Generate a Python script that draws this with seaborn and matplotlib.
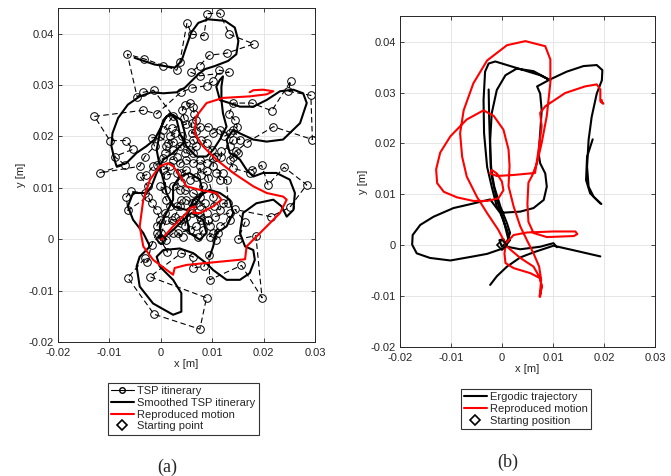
import numpy as np
import pandas as pd
import matplotlib
matplotlib.use("Agg")
import matplotlib.pyplot as plt
import seaborn as sns
from matplotlib.lines import Line2D

# -------------------------- data (values read in mm, plotted in m) --------------------------
# (a) TSP itinerary points, in visiting order
tsp_x_mm = [0.1, 1.3, -0.8, -1.8, -2.6, -3.1, -6.4, -1.3, 7.6, 8.9, -2.1, 4.0, 6.3, 6.2, 8.4, 9.4, 9.5, 15.7, 19.7,
            18.5, 15.1, 16.4, 14.4, 21.4, 25.1, 28.4, 24.0, 20.9, 19.6, 17.7, 17.3, 14.1, 13.4, 14.1, 15.1, 14.7,
            16.7, 21.9, 29.5, 29.2, 24.8, 25.3, 21.6, 17.7, 14.1, 13.3, 14.4, 14.9, 14.1, 15.4, 14.1, 13.4, 11.8,
            11.8, 10.8, 9.9, 8.9, 7.9, 10.2, 11.5, 12.3, 13.4, 9.2, 7.6, 6.9, 6.0, 6.0, 6.9, 6.5, 6.3, 5.6, 4.7,
            4.2, 4.5, 5.0, 2.1, 0.5, 2.4, -1.4, -3.4, -4.6, -6.5, -3.2, 0.5, 3.1, 3.7, 5.1, 6.0, 8.4, 9.0, 11.5,
            13.3, 18.1, 12.8, 9.4, 7.6, 5.8, 7.6, 13.3, 11.4, 10.2, 9.0, 6.0, 3.9, -0.8, -3.4, -12.9, -9.9, -6.8,
            -5.4, -9.0, -7.0, -11.9, -4.1, -3.1, -1.2, -1.8, -0.2, 1.4, 1.8, 2.7, 4.2, 5.0, 6.3, 6.9, 5.6, 6.3,
            4.7, 3.7, 2.4, 1.1, 0.8, 2.4, 3.1, 2.4, 0.5, -0.8, -1.5, -2.8, -4.1, -2.5, -3.1, -5.7, -6.7, -6.4,
            -2.5, -1.8, -0.8, -0.2, -0.8, 0.8, 1.8, 1.1, -0.2, 1.1, 0.5, 1.8, 1.1, 3.1, 3.7, 5.0, 6.3, 7.6, 8.9,
            10.2, 10.2, 12.1, 10.8, 11.5, 12.8, 13.1, 12.1, 11.5, 10.4, 10.2, 9.2, 8.9, 7.9, 7.6, 6.9, 5.6, 5.0,
            4.0, 4.0, 2.4, 3.7, 4.7, 6.3, 7.6, 8.2, 6.9, 6.0, 5.0, 4.0, 3.1, 3.7, 2.7, 2.1, 3.7, 4.7, 5.0, 6.0,
            7.6, 8.6, 8.9, 7.6, 7.9, 6.9, 5.6, 3.4, 4.4, 2.4, 1.1, 0.1, 1.1, 7.3, 8.2, 9.2, 9.5, 10.5, 13.4,
            13.4, 11.5, 10.2, 9.5, 11.2, 10.8]
tsp_y_mm = [-0.1, -2.5, 1.2, -1.1, -4.4, -3.7, -7.5, -14.6, -17.5, -11.4, -7.3, -2.7, -3.4, -5.6, -5.3, -3.1, -7.9,
            -5.1, -11.4, 0.7, 0.0, 3.4, 5.8, 4.4, 6.2, 10.6, 14.0, 10.6, 14.4, 13.5, 12.9, 13.8, 15.5, 16.1, 16.8,
            17.1, 18.8, 21.9, 19.4, 28.0, 28.8, 30.8, 25.0, 26.5, 26.5, 24.4, 23.2, 21.9, 21.3, 19.4, 19.4, 18.1,
            17.1, 16.1, 16.1, 17.4, 18.8, 19.4, 20.6, 21.3, 20.0, 20.6, 21.9, 21.9, 21.0, 20.6, 22.6, 23.2, 24.4,
            25.8, 26.5, 26.2, 25.2, 23.6, 22.4, 21.6, 21.3, 24.0, 29.0, 28.6, 27.7, 36.0, 35.1, 33.8, 32.9, 34.4,
            42.1, 39.9, 39.6, 43.9, 44.0, 39.9, 38.0, 36.2, 35.8, 33.8, 32.5, 31.8, 32.5, 32.9, 30.8, 29.9, 29.4,
            28.6, 24.4, 25.1, 23.9, 19.2, 19.2, 17.5, 16.1, 14.5, 12.9, 14.2, 16.1, 18.1, 19.7, 20.0, 18.7, 20.0,
            20.6, 20.0, 18.7, 19.4, 18.1, 17.4, 16.8, 16.8, 18.1, 19.0, 18.1, 16.8, 17.4, 16.1, 15.5, 15.8, 14.5,
            14.2, 12.5, 12.3, 10.3, 9.0, 9.3, 8.3, 5.6, 8.3, 7.0, 5.7, 3.8, 2.5, 5.1, 6.4, 7.7, 10.3, 9.6, 13.5,
            14.2, 12.5, 12.9, 14.8, 15.5, 14.8, 15.5, 14.8, 15.8, 14.2, 12.9, 12.9, 11.6, 11.6, 7.0, 7.0, 5.7, 6.4,
            8.3, 11.9, 13.2, 12.5, 14.2, 12.2, 11.6, 13.5, 12.9, 11.2, 10.3, 9.6, 9.6, 9.0, 8.3, 10.3, 7.0, 7.0,
            7.7, 7.7, 6.4, 6.4, 4.4, 3.8, 3.8, 2.5, 4.4, 5.1, 6.4, 7.0, 5.1, 4.4, 3.8, 2.5, 1.8, 1.2, 0.5, 1.2,
            -0.1, 1.2, 3.8, 0.5, 1.8, 3.8, 2.5, 4.4, 5.1, 3.8, 2.5, 1.2, 0.5, 1.2, -0.1]

# (a) smoothed TSP itinerary
smooth_x_mm = [-5.1, -1.2, 2.7, 4.0, 4.9, 5.9, 7.3, 9.2, 12.5, 14.4, 15.1, 14.7, 13.1, 10.5, 8.6, 7.3, 6.0, 4.7,
               3.1, 0.5, -1.8, -4.1, -6.4, -8.3, -9.4, -9.6, -9.0, -8.6, -6.7, -4.7, -2.8, -1.2, 0.1, 1.1, 2.4,
               4.0, 4.7, 4.4, 2.4, 0.5, -0.8, -1.8, -2.8, -5.4, -6.4, -5.4, -3.4, -2.1, -4.1, -4.7, -4.1, -1.5,
               2.4, 4.0, 4.0, 2.4, -0.2, -0.8, 0.5, 3.7, 6.3, 8.9, 10.2, 12.8, 15.4, 17.3, 18.3, 18.0, 16.4,
               15.4, 16.0, 18.6, 21.9, 23.5, 24.5, 25.8, 26.1, 25.1, 22.5, 19.9, 18.0, 16.7, 15.4, 13.4, 12.8,
               14.1, 15.4, 18.0, 20.6, 23.8, 27.1, 28.4, 27.7, 25.8, 23.2, 20.6, 18.0, 15.4, 13.4, 11.5, 10.8,
               11.5, 12.1, 11.8, 11.8, 12.1, 12.8, 11.5, 10.2, 8.9, 6.9, 5.0, 3.7, 3.1, 1.8, 0.5, -0.2, -0.8,
               -0.2, 0.5, 1.1, 2.4, 5.0, 6.9, 8.2, 7.6, 5.6, 3.7, 2.4, 2.4, 1.1, -0.2, 0.1, 2.4, 4.4, 6.0, 8.2,
               8.9, 7.6, 5.6, 5.0, 6.3, 9.5, 11.5, 13.4, 14.1, 12.8, 10.8, 10.2, 9.5]
smooth_y_mm = [35.3, 34.0, 33.4, 34.6, 37.3, 40.2, 42.1, 42.8, 42.5, 41.2, 38.6, 36.0, 34.7, 33.7, 33.1, 32.1,
               30.8, 29.5, 28.6, 28.4, 28.6, 27.8, 26.2, 23.6, 20.6, 18.1, 15.5, 14.2, 14.8, 16.8, 18.1, 19.4,
               21.9, 23.9, 24.2, 23.2, 20.6, 18.7, 16.8, 15.5, 12.9, 10.3, 9.0, 9.0, 6.4, 3.8, 1.2, -1.4, -3.4,
               -5.3, -9.2, -12.5, -14.7, -14.1, -10.5, -7.9, -5.3, -3.4, -2.1, -1.8, -2.7, -4.7, -6.0, -7.9,
               -7.9, -6.6, -4.0, -2.1, -1.4, 1.2, 5.1, 7.0, 7.7, 6.4, 4.4, 5.7, 9.0, 11.6, 12.9, 12.9, 12.2,
               13.5, 15.5, 16.8, 19.4, 21.3, 20.6, 19.4, 19.0, 19.4, 22.6, 26.5, 28.4, 29.1, 28.8, 27.1, 25.8,
               25.8, 26.5, 27.1, 29.7, 31.0, 31.7, 29.7, 27.1, 24.5, 21.9, 19.4, 17.4, 16.1, 16.1, 18.1, 20.6,
               23.2, 24.5, 23.2, 20.6, 17.4, 14.2, 11.6, 9.0, 6.4, 5.7, 7.0, 9.0, 11.6, 12.9, 12.2, 10.3, 7.7,
               5.1, 2.5, -0.1, 1.8, 3.8, 5.1, 3.8, 1.2, -0.1, 1.2, 4.4, 7.7, 9.6, 9.0, 7.7, 5.1, 2.5, 1.2, -1.4,
               -3.4]

# (a) reproduced motion
red_a_x_mm = [0.1, 2.4, 5.0, 5.6, 6.6, 6.3, 7.6, 10.2, 11.8, 10.8, 7.6, 5.0, 3.4, 2.4, 1.4, -0.2, -2.1, -3.4,
              -4.1, -3.4, -1.5, 2.4, 2.7, 5.0, 16.4, 16.7, 19.9, 23.2, 24.5, 23.8, 20.6, 18.0, 14.1, 10.8, 8.2,
              6.6, 6.9, 8.9, 12.1, 17.3, 20.6, 21.9, 19.9, 18.0, 17.3]
red_a_y_mm = [-0.1, 2.5, 5.1, 6.0, 6.4, 5.1, 5.1, 6.4, 7.7, 9.0, 9.6, 10.3, 12.9, 14.2, 14.8, 14.2, 11.6, 7.7,
              2.5, -1.4, -4.0, -6.9, -5.6, -5.0, -3.9, -1.4, 1.8, 5.1, 7.7, 8.3, 9.0, 10.3, 12.9, 15.5, 18.1,
              20.6, 23.9, 26.5, 27.5, 27.8, 28.2, 28.8, 29.1, 29.0, 28.6]

# (b) ergodic trajectory, four overlapping runs
erg_seg = [1] * 56 + [2] * 8 + [3] * 24 + [4] * 5
erg_x_mm = [19.5, 18.0, 17.0, 16.7, 17.0, 17.6, 18.6, 19.6, 19.7, 18.6, 16.0, 12.7, 9.5, 6.9, 7.5, 7.8, 7.5, 7.2,
            7.5, 8.5, 8.8, 8.2, 6.2, 3.6, 0.3, -1.0, -2.0, -2.9, -3.5, -3.6, -3.3, -2.6, -1.3, 2.3, 7.5, 9.5, 6.2,
            2.9, 0.7, -1.0, -2.0, -2.3, -2.2, -1.5, -0.3, 1.0, 1.6, 1.0, 0.0, -0.5, 0.3, 1.0, 3.6, 7.5, 10.1,
            10.8,
            -2.3, -1.0, 1.0, 3.6, 6.2, 10.1, 14.1, 19.3,
            -2.6, -2.5, -2.3, -2.0, -1.0, 0.3, 1.3, 0.3, -2.9, -5.6, -10.1, -14.1, -16.7, -17.6, -17.5, -16.0,
            -13.4, -9.5, -5.6, -2.3, -0.3, 1.0, 1.6, 0.7,
            17.8, 16.7, 16.5, 17.3, 19.3]
erg_y_mm = [8.1, 9.5, 11.5, 15.4, 20.7, 25.2, 29.8, 32.4, 34.4, 35.4, 35.2, 34.1, 32.6, 31.2, 29.8, 26.5, 22.0,
            18.0, 16.1, 14.1, 11.5, 8.9, 7.3, 6.6, 6.4, 7.6, 11.5, 15.4, 22.0, 28.5, 34.1, 35.7, 36.1, 35.0, 33.4,
            32.4, 34.2, 34.7, 33.4, 30.5, 25.9, 20.7, 15.4, 11.5, 7.6, 4.3, 2.4, 0.7, -0.3, 1.0, 1.2, -0.3, -0.8,
            -0.3, 0.4, -0.4,
            -7.8, -6.1, -4.2, -2.4, -1.4, -0.1, -1.0, -2.2,
            30.6, 25.2, 18.7, 13.5, 8.9, 5.0, 1.0, -0.6, -1.7, -2.2, -3.0, -2.5, -1.6, 0.1, 2.0, 4.0, 5.6, 7.3,
            8.2, 9.0, 6.3, 3.0, 1.0, -0.1,
            20.8, 17.4, 12.8, 10.2, 8.2]

# (b) reproduced motion
red_b_x_mm = [7.5, 7.8, 7.5, 5.6, 2.3, 0.7, 0.5, 0.8, 2.3, 4.9, 10.1, 14.4, 14.8, 14.1, 8.8, 6.2, 5.2, 5.0, 5.2,
              5.9, 6.9, 7.8, 8.8, 9.5, 9.5, 8.5, 4.6, 1.0, -2.9, -5.6, -7.5, -8.2, -7.8, -6.9, -4.9, -2.9, -0.7,
              1.0, 3.6, 6.2, 7.5, 7.8, 7.4, 7.7, 7.3, 6.2, 4.9, 3.6, 2.3, 1.3, 1.5, 1.3, 0.3, -1.6, -3.6, -6.9,
              -10.1, -12.1, -12.9, -12.7, -11.4, -8.8, -5.6, -2.9, -0.7, 0.3, 0.0, -1.0, -2.0, -2.3, -1.0, 2.3,
              6.5, 7.2, 7.8, 7.5, 8.5, 12.4, 16.3, 18.6, 19.3, 19.3, 19.9, 19.5, 19.6]
red_b_y_mm = [-10.1, -8.1, -6.5, -5.5, -4.5, -3.5, -1.6, 0.4, 2.0, 2.5, 2.7, 2.7, 2.2, 1.8, 1.6, 2.4, 4.6, 8.2,
              12.3, 13.6, 16.2, 20.1, 25.4, 31.9, 36.5, 39.1, 40.1, 39.3, 36.3, 31.8, 26.5, 22.0, 17.4, 13.5, 9.5,
              6.3, 3.0, -0.3, -2.5, -4.2, -6.5, -8.1, -10.1, -6.8, -4.2, -1.6, 1.0, 3.7, 7.6, 11.6, 15.6, 18.8,
              22.7, 25.4, 26.5, 24.7, 21.4, 18.2, 14.9, 12.2, 10.5, 9.4, 8.7, 8.7, 9.2, 10.8, 12.5, 14.1, 14.8,
              14.1, 13.6, 13.8, 14.2, 18.8, 23.4, 26.0, 27.3, 29.9, 31.2, 31.6, 30.6, 28.3, 27.8, 28.2, 28.5]

start_x_mm = [0.0]
start_y_mm = [0.0]

tick_vals_x = [-0.02, -0.01, 0, 0.01, 0.02, 0.03]
tick_lbls_x = ['-0.02', '-0.01', '0', '0.01', '0.02', '0.03']
tick_vals_y = [-0.02, -0.01, 0, 0.01, 0.02, 0.03, 0.04]
tick_lbls_y = ['-0.02', '-0.01', '0', '0.01', '0.02', '0.03', '0.04']


def m(v):
    return np.asarray(v) / 1000.0


# -------------------------- style --------------------------
sns.set_style("ticks")
plt.rcParams['font.family'] = ['Liberation Sans', 'DejaVu Sans']
plt.rcParams['axes.edgecolor'] = '#262626'
plt.rcParams['xtick.color'] = '#262626'
plt.rcParams['ytick.color'] = '#262626'

fig = plt.figure(figsize=(6.71, 4.76), dpi=100)
ax_a = fig.add_axes([0.0864, 0.2815, 0.383, 0.7017])
ax_b = fig.add_axes([0.596, 0.271, 0.380, 0.695])


def style_axes(ax):
    ax.set_xlim(-0.02, 0.03)
    ax.set_ylim(-0.02, 0.045)
    ax.set_xticks(tick_vals_x)
    ax.set_xticklabels(tick_lbls_x)
    ax.set_yticks(tick_vals_y)
    ax.set_yticklabels(tick_lbls_y)
    ax.tick_params(direction='in', top=True, right=True, labelsize=8, length=3, width=0.6)
    ax.tick_params(axis='x', pad=4)
    ax.tick_params(axis='y', pad=3)
    ax.grid(True, color='#e2e2e2', lw=0.6)
    ax.set_axisbelow(True)
    for s in ax.spines.values():
        s.set_visible(True)
        s.set_linewidth(0.7)
    ax.set_xlabel('x [m]', fontsize=8, labelpad=1, color='#262626')
    ax.set_ylabel('y [m]', fontsize=8, labelpad=2, color='#262626')


# -------------------------- (a) --------------------------
sns.lineplot(x=m(tsp_x_mm), y=m(tsp_y_mm), sort=False, estimator=None, ax=ax_a, color='k',
             lw=0.8, linestyle=(0, (5, 3)), marker='o', markersize=5.5, markerfacecolor='none',
             markeredgecolor='k', markeredgewidth=0.7)
sns.lineplot(x=m(smooth_x_mm), y=m(smooth_y_mm), sort=False, estimator=None, ax=ax_a, color='k', lw=1.5)
sns.lineplot(x=m(red_a_x_mm), y=m(red_a_y_mm), sort=False, estimator=None, ax=ax_a, color='red', lw=1.5)
ax_a.plot(m(start_x_mm), m(start_y_mm), 'D', ms=5, mfc='none', mec='k', mew=1.2)
style_axes(ax_a)

# -------------------------- (b) --------------------------
df_erg = pd.DataFrame({'x': m(erg_x_mm), 'y': m(erg_y_mm), 'seg': erg_seg})
sns.lineplot(data=df_erg, x='x', y='y', units='seg', sort=False, estimator=None, ax=ax_b,
             color='k', lw=1.5)
sns.lineplot(x=m(red_b_x_mm), y=m(red_b_y_mm), sort=False, estimator=None, ax=ax_b, color='red', lw=1.5)
ax_b.plot(m(start_x_mm), m(start_y_mm), 'D', ms=5, mfc='none', mec='k', mew=1.2)
style_axes(ax_b)

# -------------------------- legends --------------------------
leg_kw = dict(loc='upper left', fontsize=8, frameon=True, fancybox=False, borderaxespad=0,
              handlelength=2.0, handletextpad=0.3, labelspacing=0.15, borderpad=0.3)
h_a = [Line2D([], [], color='k', lw=0.8, marker='o', ms=4, mfc='none', mec='k'),
       Line2D([], [], color='k', lw=1.5),
       Line2D([], [], color='red', lw=1.5),
       Line2D([], [], ls='none', marker='D', ms=5, mfc='none', mec='k', mew=1.2)]
leg_a = fig.legend(h_a, ['TSP itinerary', 'Smoothed TSP itinerary', 'Reproduced motion', 'Starting point'],
                   bbox_to_anchor=(0.161, 0.1954), **leg_kw)
h_b = [Line2D([], [], color='k', lw=1.5),
       Line2D([], [], color='red', lw=1.5),
       Line2D([], [], ls='none', marker='D', ms=5, mfc='none', mec='k', mew=1.2)]
leg_b = fig.legend(h_b, ['Ergodic trajectory', 'Reproduced motion', 'Starting position'],
                   bbox_to_anchor=(0.687, 0.1828), **leg_kw)
for leg in (leg_a, leg_b):
    leg.get_frame().set_edgecolor('k')
    leg.get_frame().set_linewidth(0.8)

fig.text(0.249, 0.019, '(a)', ha='center', va='center', fontsize=13, family='Liberation Serif')
fig.text(0.757, 0.029, '(b)', ha='center', va='center', fontsize=13, family='Liberation Serif')

fig.savefig('out.png', dpi=100)
